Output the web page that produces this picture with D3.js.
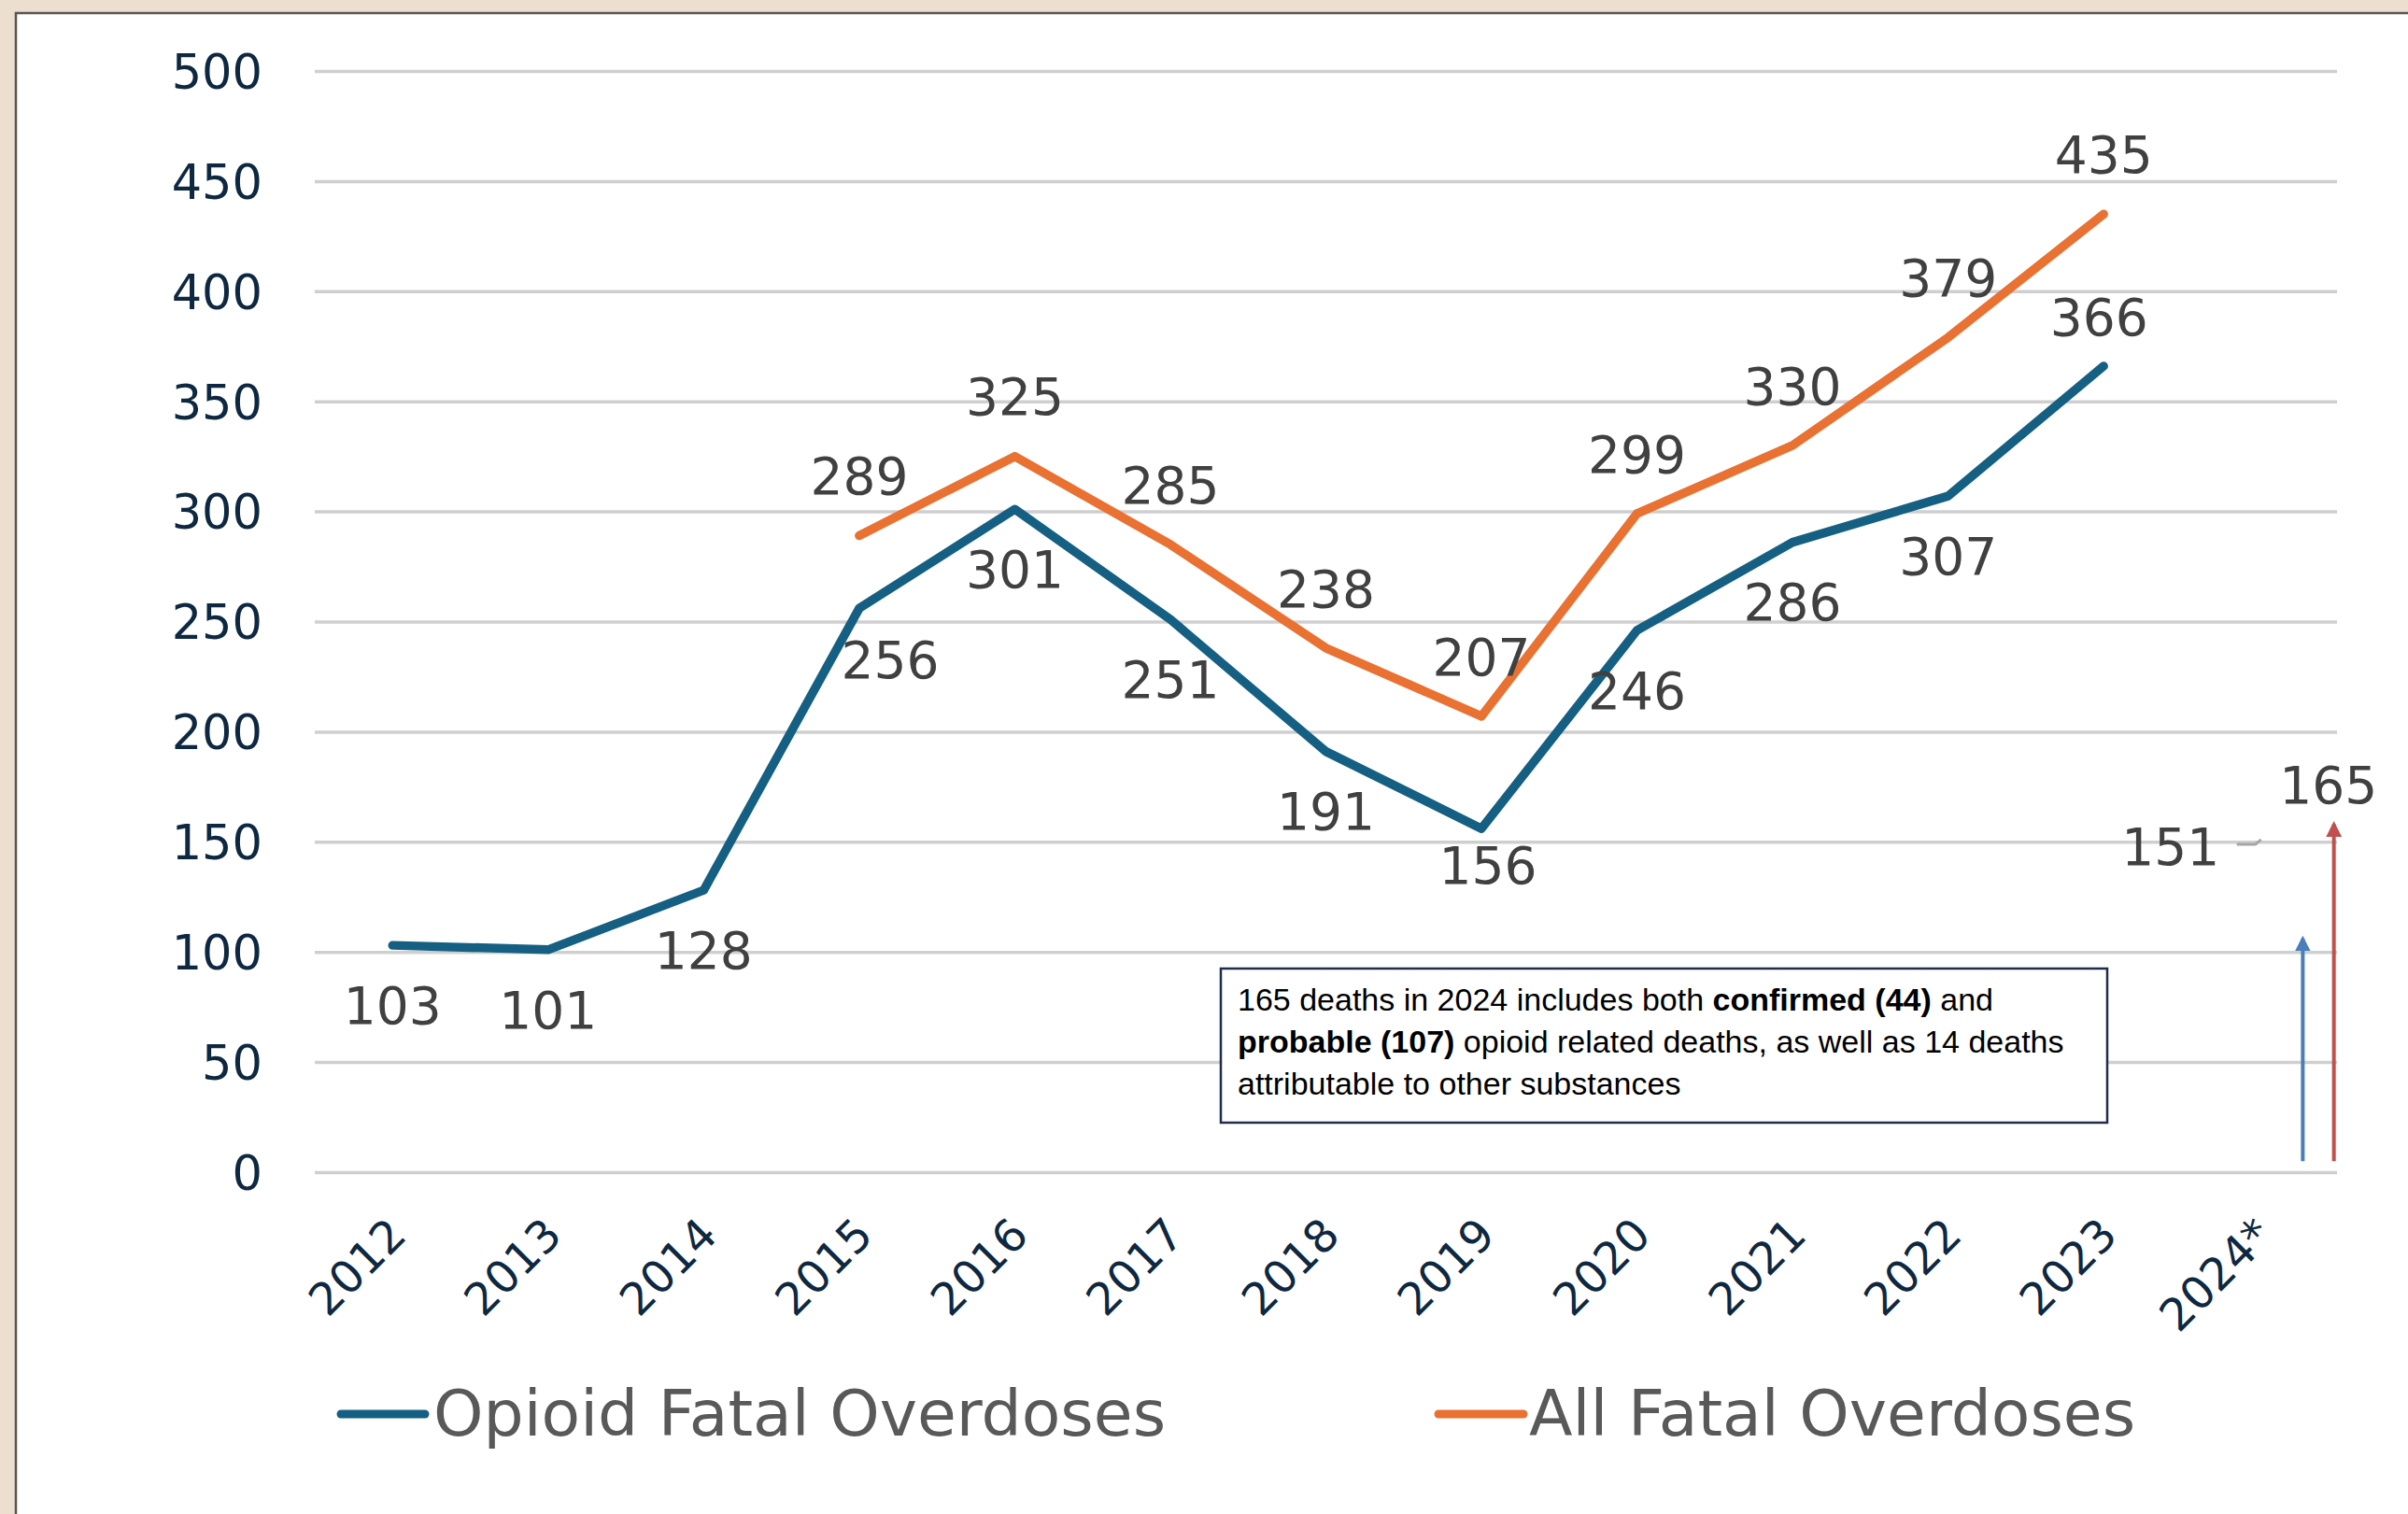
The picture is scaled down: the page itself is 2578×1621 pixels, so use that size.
<!DOCTYPE html>
<html>
<head>
<meta charset="utf-8">
<script src="https://cdn.jsdelivr.net/npm/d3@7"></script>
<style>
  html, body { margin: 0; padding: 0; background: #ecdfcf; }
  svg { display: block; }
</style>
</head>
<body>
<div id="c1"></div>
<script>
// Data
var years = ["2012", "2013", "2014", "2015", "2016", "2017", "2018", "2019", "2020", "2021", "2022", "2023", "2024*"];
var opioidYears = ["2012", "2013", "2014", "2015", "2016", "2017", "2018", "2019", "2020", "2021", "2022", "2023"];
var opioidDeaths = [103, 101, 128, 256, 301, 251, 191, 156, 246, 286, 307, 366];
var allYears = ["2015", "2016", "2017", "2018", "2019", "2020", "2021", "2022", "2023"];
var allDeaths = [289, 325, 285, 238, 207, 299, 330, 379, 435];
var opioid2024 = 151;
var all2024 = 165;
var yTicks = [0, 50, 100, 150, 200, 250, 300, 350, 400, 450, 500];
// 2024 arrows drawn on the slide (base and tip values)
var arrowBase = 5;
var arrowTips = [106, 158];
var seriesNames = ["Opioid Fatal Overdoses", "All Fatal Overdoses"];

var W = 2578, H = 1621;
var plotLeft = 337, plotRight = 2502, plotTop = 76, plotBottom = 1255;
var blue = "#156082", orange = "#e97132";
var navy = "#0e2841", labelGrey = "#404040";

var svg;

function draw() {
    svg = d3.select("#c1").append("svg")
        .attr("width", W)
        .attr("height", H);

    // slide panel
    svg.append("rect").attr("x", 0).attr("y", 0).attr("width", W).attr("height", H).attr("fill", "#ecdfcf");
    svg.append("rect").attr("x", 17).attr("y", 14).attr("width", W - 17).attr("height", H - 14).attr("fill", "#ffffff");
    svg.append("path").attr("d", "M17," + H + "V14H" + W)
        .attr("fill", "none").attr("stroke", "#5a5550").attr("stroke-width", 2.5);

    var x = d3.scaleBand().domain(years).range([plotLeft, plotRight]);
    var y = d3.scaleLinear().domain([0, 500]).range([plotBottom, plotTop]);
    var cx = function (d) { return x(d) + x.bandwidth() / 2; };

    // Gridlines + y labels
    var yAxis = svg.append("g")
        .attr("transform", "translate(" + plotLeft + ",0)")
        .call(d3.axisLeft(y).tickValues(yTicks).tickSize(-(plotRight - plotLeft)).tickPadding(56));
    yAxis.select(".domain").remove();
    yAxis.selectAll(".tick line").attr("stroke", "#cfcfcf").attr("stroke-width", 3.5);
    yAxis.selectAll(".tick text")
        .attr("fill", navy)
        .attr("font-family", "DejaVu Sans")
        .attr("font-size", 51)
        .attr("dy", "0.36em");

    // X labels
    var xAxis = svg.append("g")
        .attr("transform", "translate(0," + plotBottom + ")")
        .call(d3.axisBottom(x).tickSize(0).tickPadding(0));
    xAxis.select(".domain").remove();
    xAxis.selectAll(".tick text")
        .attr("fill", navy)
        .attr("font-family", "DejaVu Sans")
        .attr("font-size", 48)
        .attr("text-anchor", "end")
        .attr("dy", 0)
        .attr("transform", "translate(17,70) rotate(-45)");

    // Lines
    var line = d3.line()
        .x(function (d) { return cx(d.year); })
        .y(function (d) { return y(d.value); });

    var opioid = opioidYears.map(function (yr, i) { return { year: yr, value: opioidDeaths[i] }; });
    var all = allYears.map(function (yr, i) { return { year: yr, value: allDeaths[i] }; });

    svg.append("path").datum(opioid)
        .attr("d", line)
        .attr("fill", "none").attr("stroke", blue).attr("stroke-width", 9.5)
        .attr("stroke-linejoin", "round").attr("stroke-linecap", "round");
    svg.append("path").datum(all)
        .attr("d", line)
        .attr("fill", "none").attr("stroke", orange).attr("stroke-width", 9.5)
        .attr("stroke-linejoin", "round").attr("stroke-linecap", "round");

    // Data labels
    var nudge = { "2015": [33, 55], "2019": [7, 39], "2023": [-5, -53] };
    svg.append("g").selectAll("text")
        .data(opioid)
        .enter()
        .append("text")
        .attr("x", function (d) { return cx(d.year) + (nudge[d.year] ? nudge[d.year][0] : 0); })
        .attr("y", function (d) { return y(d.value) + (nudge[d.year] ? nudge[d.year][1] : 64); })
        .attr("dy", "0.36em")
        .attr("text-anchor", "middle")
        .attr("font-family", "DejaVu Sans").attr("font-size", 55)
        .attr("fill", labelGrey)
        .text(function (d) { return d.value; });

    svg.append("g").selectAll("text")
        .data(all)
        .enter()
        .append("text")
        .attr("x", function (d) { return cx(d.year); })
        .attr("y", function (d) { return y(d.value) - 64; })
        .attr("dy", "0.36em")
        .attr("text-anchor", "middle")
        .attr("font-family", "DejaVu Sans").attr("font-size", 55)
        .attr("fill", labelGrey)
        .text(function (d) { return d.value; });

    // 2024 labels
    var c24 = cx("2024*");
    svg.append("text")
        .attr("x", c24 - 95).attr("y", y(opioid2024) + 7).attr("dy", "0.36em")
        .attr("text-anchor", "middle")
        .attr("font-family", "DejaVu Sans").attr("font-size", 55)
        .attr("fill", labelGrey).text(opioid2024);
    svg.append("path")
        .attr("d", "M" + (c24 - 24) + "," + (y(opioid2024) + 5) + "h20l6,-5")
        .attr("fill", "none").attr("stroke", "#a6a6a6").attr("stroke-width", 3);
    svg.append("text")
        .attr("x", c24 + 74).attr("y", y(all2024) - 26).attr("dy", "0.36em")
        .attr("text-anchor", "middle")
        .attr("font-family", "DejaVu Sans").attr("font-size", 55)
        .attr("fill", labelGrey).text(all2024);

    // Arrows
    var defs = svg.append("defs");
    var arrowColors = ["#4a7ebb", "#c0504d"];
    var arrowX = [c24 + x.bandwidth() * 0.28, c24 + x.bandwidth() * 0.48];
    arrowColors.forEach(function (col, i) {
        defs.append("marker")
            .attr("id", "ah" + i)
            .attr("viewBox", "0 0 10 10")
            .attr("refX", 8).attr("refY", 5)
            .attr("markerWidth", 4.2).attr("markerHeight", 4.2)
            .attr("markerUnits", "strokeWidth")
            .attr("orient", "auto")
            .append("path").attr("d", "M0,0L10,5L0,10z").attr("fill", col);
    });
    svg.append("g").selectAll("line")
        .data(arrowTips)
        .enter()
        .append("line")
        .attr("x1", function (d, i) { return arrowX[i]; })
        .attr("x2", function (d, i) { return arrowX[i]; })
        .attr("y1", y(arrowBase))
        .attr("y2", function (d) { return y(d); })
        .attr("stroke", function (d, i) { return arrowColors[i]; })
        .attr("stroke-width", 4)
        .attr("marker-end", function (d, i) { return "url(#ah" + i + ")"; });

    // Note box
    var box = svg.append("g").attr("transform", "translate(1307,1037)");
    box.append("rect")
        .attr("width", 949).attr("height", 165)
        .attr("fill", "#ffffff").attr("stroke", "#1f2d4a").attr("stroke-width", 2.5);
    var note = [
        [["165 deaths in 2024 includes both ", false], ["confirmed (44)", true], [" and", false]],
        [["probable (107)", true], [" opioid related deaths, as well as 14 deaths", false]],
        [["attributable to other substances", false]]
    ];
    note.forEach(function (parts, i) {
        var t = box.append("text")
            .attr("x", 18).attr("y", 45 + i * 45)
            .attr("font-family", "Liberation Sans").attr("font-size", 34)
            .attr("fill", "#000000")
            .attr("xml:space", "preserve");
        parts.forEach(function (p) {
            t.append("tspan").attr("font-weight", p[1] ? "bold" : "normal").text(p[0]);
        });
    });

    // Legend
    var legendX = [[365, 455, 464], [1540, 1631, 1637]];
    var legend = svg.append("g").selectAll("g")
        .data(seriesNames)
        .enter()
        .append("g");
    legend.append("line")
        .attr("x1", function (d, i) { return legendX[i][0]; })
        .attr("x2", function (d, i) { return legendX[i][1]; })
        .attr("y1", 1514).attr("y2", 1514)
        .attr("stroke", function (d, i) { return i == 0 ? blue : orange; })
        .attr("stroke-width", 9).attr("stroke-linecap", "round");
    legend.append("text")
        .attr("x", function (d, i) { return legendX[i][2]; })
        .attr("y", 1537)
        .attr("font-family", "DejaVu Sans").attr("font-size", 68)
        .attr("fill", "#595959")
        .text(function (d) { return d; });
}

draw();
</script>
</body>
</html>
